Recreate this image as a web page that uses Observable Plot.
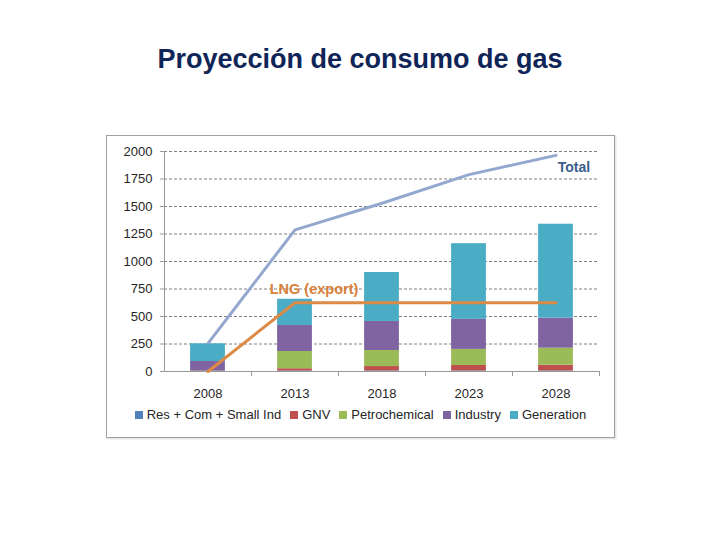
<!DOCTYPE html>
<html>
<head>
<meta charset="utf-8">
<script src="https://cdn.jsdelivr.net/npm/d3@7"></script>
<script src="https://cdn.jsdelivr.net/npm/@observablehq/plot@0.6"></script>
<style>
  html, body { margin: 0; padding: 0; background: #fff; }
  body { width: 720px; height: 540px; position: relative; overflow: hidden; font-family: "Liberation Sans", Arial, sans-serif; }
  #title { position: absolute; left: 0; top: 44px; width: 720px; text-align: center; font-weight: bold; font-size: 27px; line-height: 31px; color: #0f2557; }
  #frame { position: absolute; left: 106px; top: 135px; width: 507px; height: 301px; border: 1px solid #a0a0a0; box-shadow: 1px 1px 2px rgba(0,0,0,0.15); background: #fff; }
  #chart { position: absolute; left: 0; top: 0; }
  #legend { position: absolute; left: 0; top: 271px; width: 507px; display: flex; justify-content: center; gap: 9px; font-size: 13px; color: #262626; }
  #legend span.item { display: inline-flex; align-items: center; gap: 4px; white-space: nowrap; }
  #legend span.sw { display: inline-block; width: 8px; height: 8px; }
</style>
</head>
<body>
<div id="title">Proyección de consumo de gas</div>
<div id="frame">
  <div id="chart"></div>
  <div id="legend"></div>
</div>
<script>
const years = [2008, 2013, 2018, 2023, 2028];
const seriesNames = ["Res + Com + Small Ind", "GNV", "Petrochemical", "Industry", "Generation"];
const resCom = [5, 5, 5, 5, 5];
const gnv = [3, 20, 40, 50, 52];
const petrochemical = [0, 157, 146, 146, 155];
const industry = [83, 236, 264, 273, 273];
const generation = [161, 239, 445, 688, 854];
const totalLine = [255, 1288, 1530, 1790, 1965];
const lngExport = [0, 625, 625, 625, 625];
const yTicks = [0, 250, 500, 750, 1000, 1250, 1500, 1750, 2000];
const seriesColors = ["#4f81bd", "#c0504d", "#9bbb59", "#8064a2", "#4bacc6"];

const seriesValues = [resCom, gnv, petrochemical, industry, generation];
const rows = [];
years.forEach((yr, i) => {
  seriesNames.forEach((s, k) => rows.push({year: yr, series: s, value: seriesValues[k][i]}));
});
const totalRows = years.map((yr, i) => ({year: yr, value: totalLine[i]}));
const lngRows = years.map((yr, i) => ({year: yr, value: lngExport[i]}));
const boundaries = years.map(y => y + 2.5);

const stacked = Plot.stackY({x: "year", y: "value", fill: "series"});

const chart = Plot.plot({
  width: 507,
  height: 270,
  marginLeft: 57,
  marginRight: 15,
  marginTop: 15,
  marginBottom: 35,
  style: {fontFamily: "'Liberation Sans', Arial, sans-serif", fontSize: "13px", color: "#262626", background: "transparent"},
  x: {domain: [2005.5, 2030.5], axis: null},
  y: {domain: [0, 2000], axis: null},
  color: {domain: seriesNames, range: seriesColors},
  marks: [
    Plot.ruleY(yTicks.filter(d => d > 0), {stroke: "#808080", strokeDasharray: "3,2", strokeWidth: 1}),
    Plot.axisY({ticks: yTicks, tickSize: 4, tickPadding: 8, tickFormat: d => String(d), stroke: "#999", fontSize: 13, label: null}),
    Plot.rect(rows, {...stacked, x: undefined, x1: d => d.year - 1, x2: d => d.year + 1}),
    Plot.ruleY([0], {stroke: "#999"}),
    Plot.ruleX([2005.5], {y1: 0, y2: 2000, stroke: "#999"}),
    Plot.axisX({ticks: boundaries, tickSize: 5, tickFormat: () => "", stroke: "#999", label: null}),
    Plot.axisX({ticks: years, tickSize: 0, tickPadding: 17, tickFormat: d => String(d), fontSize: 13, label: null}),
    Plot.line(totalRows, {x: "year", y: "value", stroke: "#94a8cf", strokeWidth: 3}),
    Plot.line(lngRows, {x: "year", y: "value", stroke: "#dc8a45", strokeWidth: 3}),
    Plot.text(["Total"], {x: 2028, y: 1855, dx: 18, text: d => d, fill: "#3a5e8c", fontWeight: "bold", fontSize: 14}),
    Plot.text(["LNG (export)"], {x: 2013, y: 745, dx: 19, text: d => d, fill: "#d9813a", fontWeight: "bold", fontSize: 14.5})
  ]
});
document.getElementById("chart").appendChild(chart);

const legend = document.getElementById("legend");
seriesNames.forEach((s, k) => {
  const item = document.createElement("span");
  item.className = "item";
  const sw = document.createElement("span");
  sw.className = "sw";
  sw.style.background = seriesColors[k];
  item.appendChild(sw);
  item.appendChild(document.createTextNode(s));
  legend.appendChild(item);
});
</script>
</body>
</html>
